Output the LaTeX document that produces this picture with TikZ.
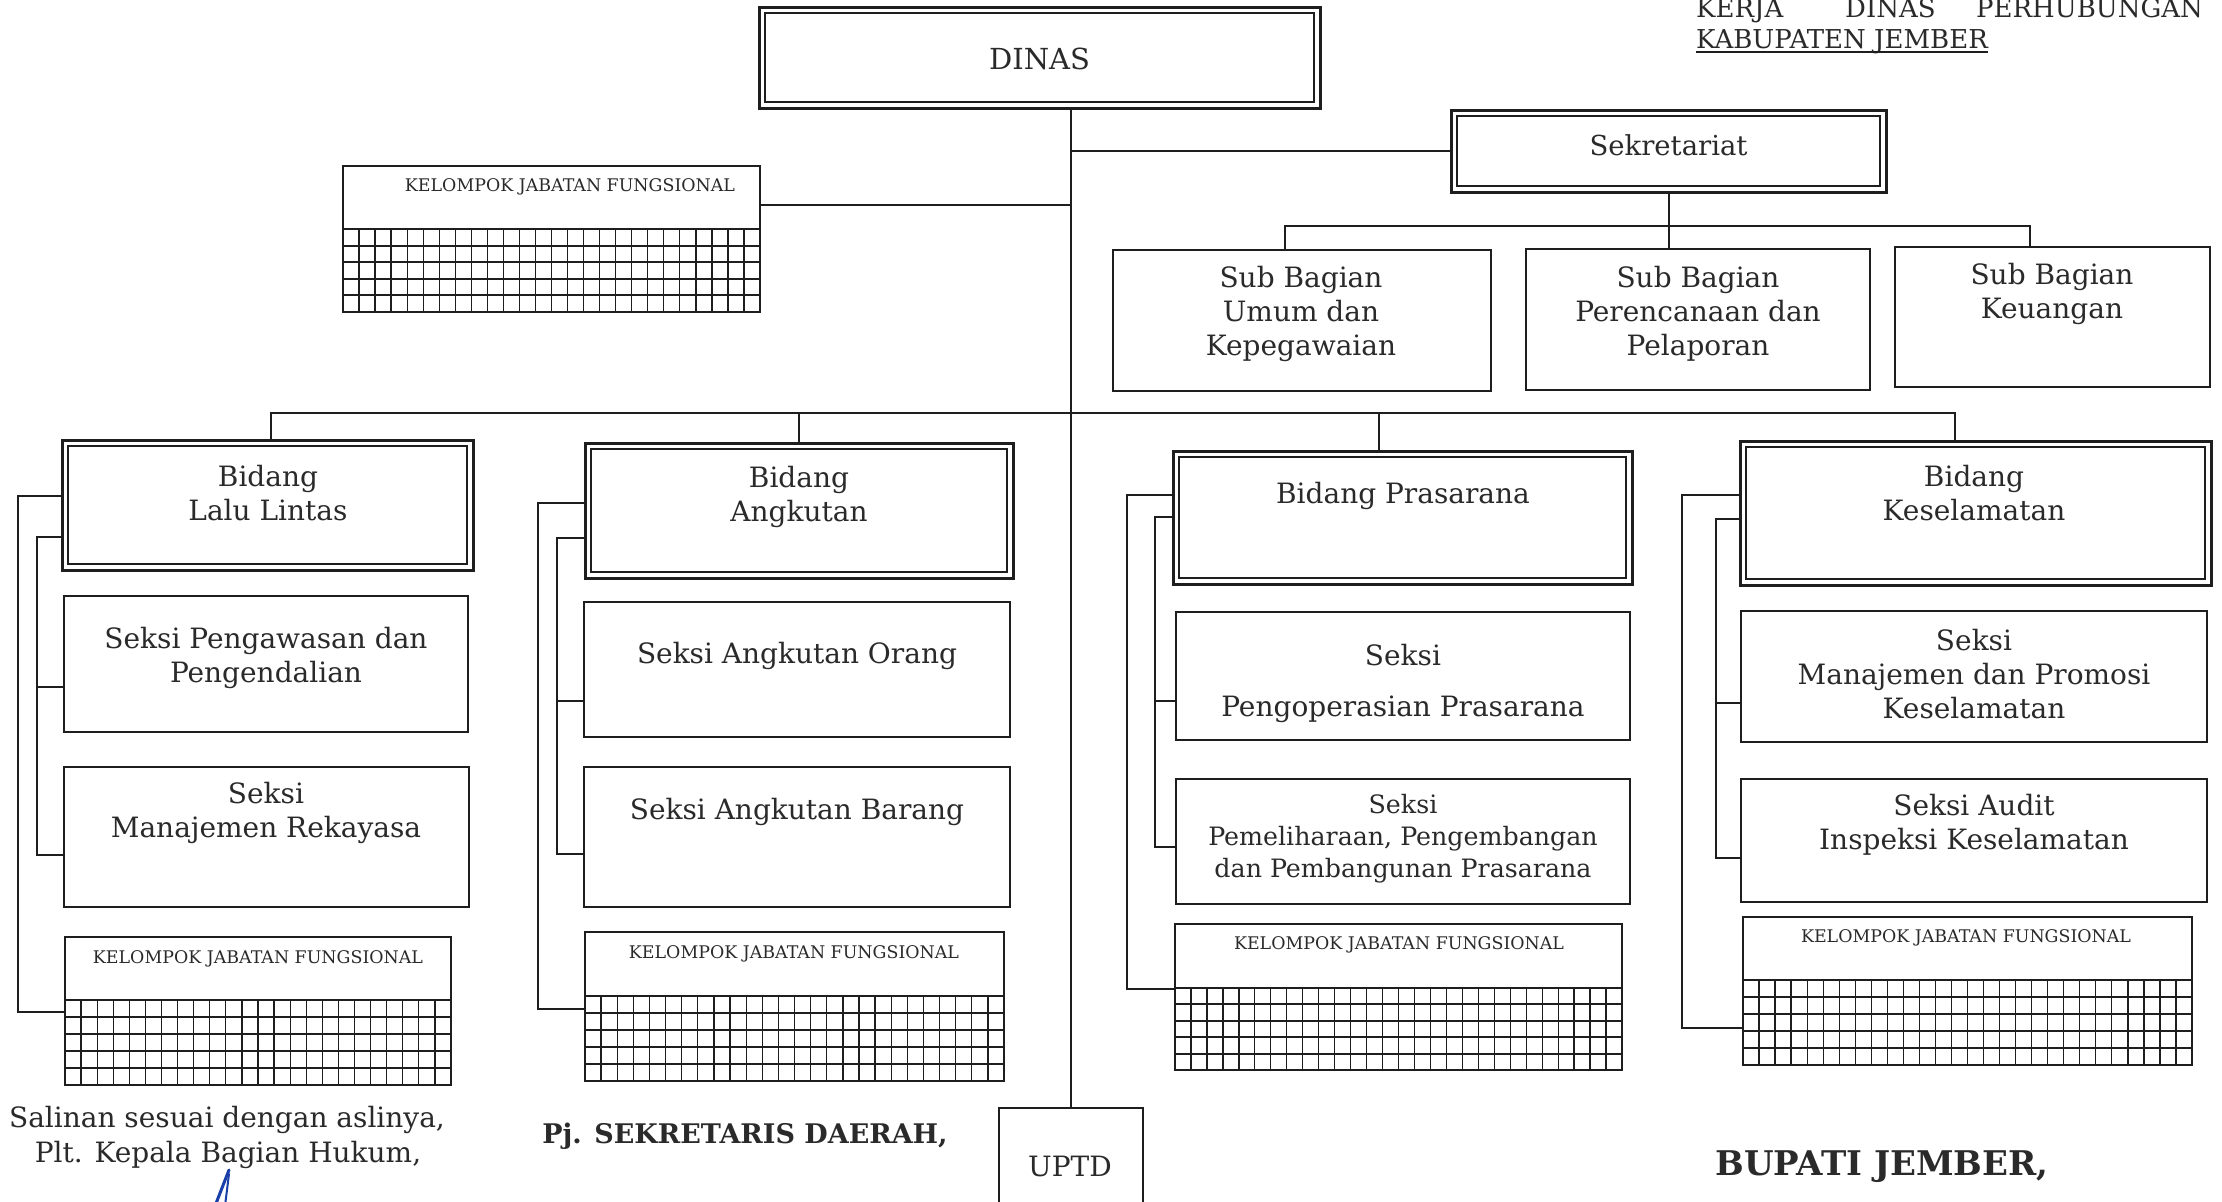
\documentclass[tikz,border=0pt]{standalone}
\usepackage{fontspec}
\setmainfont{DejaVu Serif}
\definecolor{ink}{HTML}{1E1E1E}
\definecolor{txtc}{HTML}{2A2A2A}
\definecolor{penblue}{HTML}{1A3FA8}
\newcommand\kjfgrid[4]{%
  \pgfmathtruncatemacro\kgnc{round((#3-#1)/16)}%
  \pgfmathsetmacro\kgdc{(#3-#1)/\kgnc}%
  \pgfmathtruncatemacro\kgnr{round((#4-#2)/16.5)}%
  \pgfmathsetmacro\kgdr{(#4-#2)/\kgnr}%
  \foreach \i in {1,...,\kgnc}{\draw[gridv] ({#1+\i*\kgdc},#2) -- ({#1+\i*\kgdc},#4);}%
  \foreach \j in {1,...,\kgnr}{\draw[gridh] (#1,{#2+\j*\kgdr}) -- (#3,{#2+\j*\kgdr});}%
  \draw[gridtop] (#1,#2) -- (#3,#2);%
}
\tikzset{
  box/.style={draw=ink, line width=2pt, inner sep=0pt, outer sep=0pt, rectangle},
  dbox/.style={draw=ink, line width=3pt, inner sep=0pt, outer sep=0pt, rectangle,
    path picture={\draw[ink, line width=1.4pt]
      ([xshift=6pt,yshift=-6pt]path picture bounding box.north west) rectangle
      ([xshift=-6pt,yshift=6pt]path picture bounding box.south east);}},
  txt/.style={text=txtc, font=\fontsize{28}{34}\selectfont, align=center, inner sep=0pt},
  hdrtxt/.style={text=txtc, font=\fontsize{26}{34}\selectfont, inner sep=0pt},
  smalltxt/.style={text=txtc, font=\fontsize{17.4}{20}\selectfont, inner sep=0pt},
  boldtxt/.style={text=txtc, font=\fontsize{27}{34}\selectfont\bfseries, inner sep=0pt},
  conn/.style={draw=ink, line width=2pt},
  gridv/.style={ink, line width=1.3pt},
  gridh/.style={ink, line width=2pt},
  gridtop/.style={ink, line width=2.6pt},
}
\begin{document}
\begin{tikzpicture}[x=1pt, y=-1pt]
\useasboundingbox[fill=white] (0,0) rectangle (2222,1202);

% header
\node[hdrtxt, anchor=base west] (h1) at (1696,17) {KERJA};
\node[hdrtxt, anchor=base west] (h2) at (1845,17) {DINAS};
\node[hdrtxt, anchor=base east] (h3) at (2203,17) {PERHUBUNGAN};
\node[hdrtxt, anchor=base west] (h4) at (1696,48) {KABUPATEN JEMBER};
\draw[ink, line width=1.5pt] ([yshift=-4pt]h4.base west) -- ([yshift=-4pt]h4.base east);

% top level
\node[dbox, minimum width=561pt, minimum height=101pt] (dinas) at (1039.5,57.5) {};
\node[txt, font=\fontsize{29}{34}\selectfont] (dinast) at (1039.5,59) {DINAS};
\node[dbox, minimum width=435pt, minimum height=82pt] (sek) at (1668.5,151) {};
\node[txt, font=\fontsize{27.5}{34}\selectfont] (sekt) at (1668.5,145) {Sekretariat};

\node[box, minimum width=378pt, minimum height=141pt] (sbu) at (1302,320.5) {};
\node[txt] (sbut) at (1301,314) {Sub Bagian\\Umum dan\\Kepegawaian};
\node[box, minimum width=344pt, minimum height=141pt] (sbp) at (1698,319.5) {};
\node[txt] (sbpt) at (1698,314) {Sub Bagian\\Perencanaan dan\\Pelaporan};
\node[box, minimum width=315pt, minimum height=140pt] (sbk) at (2052.5,317) {};
\node[txt] (sbkt) at (2052,294) {Sub Bagian\\Keuangan};

\node[box, minimum width=417pt, minimum height=146pt] (kjf0) at (551.5,239) {};
\node[smalltxt] (kjf0t) at (570,187) {KELOMPOK JABATAN FUNGSIONAL};
\kjfgrid{343}{229}{760}{312}

% Lalu Lintas
\node[dbox, minimum width=411pt, minimum height=130pt] (ll) at (267.5,505) {};
\node[txt] (llt) at (268,493) {Bidang\\Lalu Lintas};
\node[box, minimum width=404pt, minimum height=136pt] (sp) at (266,664) {};
\node[txt] (spt) at (266,658) {Seksi Pengawasan dan\\Pengendalian};
\node[box, minimum width=405pt, minimum height=140pt] (sm) at (266.5,837) {};
\node[txt] (smt) at (266,813) {Seksi\\Manajemen Rekayasa};
\node[box, minimum width=386pt, minimum height=148pt] (kll) at (258,1011) {};
\node[smalltxt] (kllt) at (258,959) {KELOMPOK JABATAN FUNGSIONAL};
\kjfgrid{65}{1000}{451}{1085}

% Angkutan
\node[dbox, minimum width=428pt, minimum height=135pt] (ang) at (799,510.5) {};
\node[txt] (angt) at (799,497) {Bidang\\Angkutan};
\node[box, minimum width=426pt, minimum height=135pt] (sao) at (797,669.5) {};
\node[txt] (saot) at (797,656) {Seksi Angkutan Orang};
\node[box, minimum width=426pt, minimum height=140pt] (sab) at (797,837) {};
\node[txt] (sabt) at (797,812) {Seksi Angkutan Barang};
\node[box, minimum width=419pt, minimum height=149pt] (kang) at (794.5,1006.5) {};
\node[smalltxt] (kangt) at (794,954) {KELOMPOK JABATAN FUNGSIONAL};
\kjfgrid{585}{996}{1004}{1081}

% Prasarana
\node[dbox, minimum width=459pt, minimum height=133pt] (pras) at (1402.5,517.5) {};
\node[txt] (prast) at (1403,496) {Bidang Prasarana};
\node[box, minimum width=454pt, minimum height=128pt] (spo) at (1403,676) {};
\node[txt] (spot) at (1403,683) {Seksi\\[17pt]Pengoperasian Prasarana};
\node[box, minimum width=454pt, minimum height=125pt] (spm) at (1403,841.5) {};
\node[txt, font=\fontsize{25.3}{32}\selectfont] (spmt) at (1403,839) {Seksi\\Pemeliharaan, Pengembangan\\dan Pembangunan Prasarana};
\node[box, minimum width=447pt, minimum height=146pt] (kpras) at (1398.5,997) {};
\node[smalltxt] (kprast) at (1399,945) {KELOMPOK JABATAN FUNGSIONAL};
\kjfgrid{1175}{988}{1622}{1070}

% Keselamatan
\node[dbox, minimum width=471pt, minimum height=144pt] (kes) at (1975.5,513) {};
\node[txt] (kest) at (1974,493) {Bidang\\Keselamatan};
\node[box, minimum width=466pt, minimum height=131pt] (smp) at (1974,676.5) {};
\node[txt] (smpt) at (1974,674) {Seksi\\Manajemen dan Promosi\\Keselamatan};
\node[box, minimum width=466pt, minimum height=123pt] (sau) at (1974,840.5) {};
\node[txt] (saut) at (1974,825) {Seksi Audit\\Inspeksi Keselamatan};
\node[box, minimum width=449pt, minimum height=148pt] (kkes) at (1967.5,991) {};
\node[smalltxt] (kkest) at (1966,938) {KELOMPOK JABATAN FUNGSIONAL};
\kjfgrid{1743}{980}{2192}{1065}

% UPTD
\node[box, minimum width=144pt, minimum height=107pt] (uptd) at (1071,1161.5) {};
\node[txt] (uptdt) at (1070,1166) {UPTD};

% connectors
\draw[conn] (uptd.north |- dinas.south) -- (uptd.north);
\draw[conn] (uptd.north |- sek.west) -- (sek.west);
\draw[conn] (uptd.north |- 0,205) -- (kjf0.east |- 0,205);
\draw[conn] (sek.south) -- (sek.south |- sbp.north);
\coordinate (sbL) at (1285,226);
\coordinate (sbR) at (2030,226);
\draw[conn] (sbL |- sbu.north) -- (sbL) -- (sbR) -- (sbR |- sbk.north);

\coordinate (b1) at (271,413);
\coordinate (b2) at (799,413);
\coordinate (b3) at (1379,413);
\coordinate (b4) at (1955,413);
\draw[conn] (b1 |- ll.north) -- (b1) -- (b4) -- (b4 |- kes.north);
\draw[conn] (b2) -- (b2 |- ang.north);
\draw[conn] (b3) -- (b3 |- pras.north);

% Lalu Lintas brackets
\draw[conn] (ll.west |- 0,496) -| (18,1012) -- (kll.west |- 0,1012);
\draw[conn] (ll.west |- 0,537) -| (37,855) -- (sm.west |- 0,855);
\draw[conn] (37,687) -- (sp.west |- 0,687);
% Angkutan brackets
\draw[conn] (ang.west |- 0,503) -| (538,1009) -- (kang.west |- 0,1009);
\draw[conn] (ang.west |- 0,538) -| (557,854) -- (sab.west |- 0,854);
\draw[conn] (557,701) -- (sao.west |- 0,701);
% Prasarana brackets
\draw[conn] (pras.west |- 0,495) -| (1127,989) -- (kpras.west |- 0,989);
\draw[conn] (pras.west |- 0,517) -| (1155,847) -- (spm.west |- 0,847);
\draw[conn] (1155,701) -- (spo.west |- 0,701);
% Keselamatan brackets
\draw[conn] (kes.west |- 0,495) -| (1682,1028) -- (kkes.west |- 0,1028);
\draw[conn] (kes.west |- 0,519) -| (1716,858) -- (sau.west |- 0,858);
\draw[conn] (1716,703) -- (smp.west |- 0,703);

% signatures
\node[txt] (sig1) at (227,1120) {Salinan sesuai dengan aslinya,};
\node[txt] (sig2) at (228,1155) {Plt. Kepala Bagian Hukum,};
\node[boldtxt] (sig3) at (745,1136) {Pj. SEKRETARIS DAERAH,};
\node[boldtxt, font=\fontsize{34}{40}\selectfont\bfseries] (sig4) at (1882,1167) {BUPATI JEMBER,};
\draw[penblue, line width=3pt, line cap=round] (229,1170) -- (215,1206);
\draw[penblue, line width=2pt, line cap=round] (229,1174) -- (225,1206);
\end{tikzpicture}
\end{document}
